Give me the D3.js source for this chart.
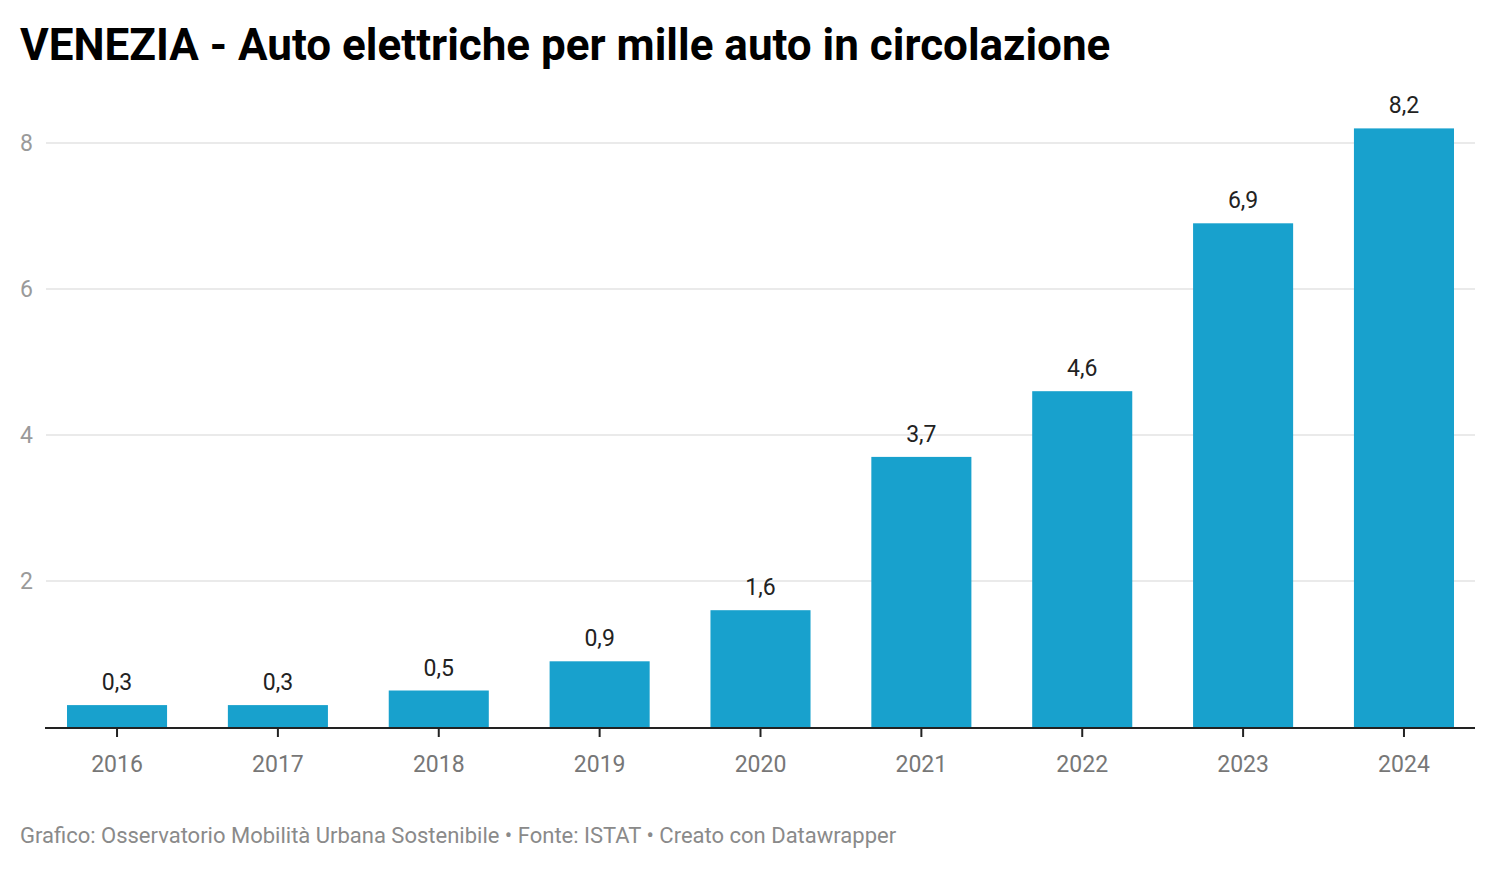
<!DOCTYPE html>
<html>
<head>
<meta charset="utf-8">
<script src="https://cdn.jsdelivr.net/npm/d3@7"></script>
<style>
  body { margin: 0; background: #fff; font-family: Roboto, "Noto Sans", sans-serif; }
  .grid line { stroke: #e3e3e3; stroke-width: 1.5; }
</style>
</head>
<body>
<div id="chart"></div>
<script>
var years = ["2016", "2017", "2018", "2019", "2020", "2021", "2022", "2023", "2024"];
var values = [0.3, 0.3, 0.5, 0.9, 1.6, 3.7, 4.6, 6.9, 8.2];
var yTicks = [2, 4, 6, 8];

var W = 1496, H = 870;
var fmt = function(v){ return d3.format(".1f")(v).replace(".", ","); };

var svg = d3.select("#chart").append("svg")
    .attr("width", W)
    .attr("height", H);

// title
svg.append("text")
    .attr("x", 20).attr("y", 60)
    .style("font-size", "44px")
    .style("font-weight", "bold")
    .style("fill", "#000")
    .text("VENEZIA - Auto elettriche per mille auto in circolazione");

var xScale = d3.scaleBand()
    .domain(years)
    .range([36.6, 1484.4])
    .paddingInner(0.378)
    .paddingOuter(0.189);

var yScale = d3.scaleLinear()
    .domain([0, 8])
    .range([727, 143]);

// grid lines
svg.append("g").attr("class", "grid")
    .selectAll("line")
    .data(yTicks)
    .enter().append("line")
    .attr("x1", 46).attr("x2", 1475)
    .attr("y1", function(d){ return yScale(d); })
    .attr("y2", function(d){ return yScale(d); });

// y labels
svg.append("g")
    .selectAll("text")
    .data(yTicks)
    .enter().append("text")
    .attr("x", 33)
    .attr("y", function(d){ return yScale(d); })
    .attr("dy", "0.35em")
    .attr("text-anchor", "end")
    .style("font-size", "23px")
    .style("fill", "#9a9a9a")
    .text(function(d){ return d; });

// bars
svg.append("g")
    .selectAll("rect")
    .data(values)
    .enter().append("rect")
    .attr("x", function(d, i){ return xScale(years[i]); })
    .attr("width", xScale.bandwidth())
    .attr("y", function(d){ return yScale(d); })
    .attr("height", function(d){ return yScale(0) - yScale(d); })
    .style("fill", "#18a1cd");

// value labels
svg.append("g")
    .selectAll("text")
    .data(values)
    .enter().append("text")
    .attr("x", function(d, i){ return xScale(years[i]) + xScale.bandwidth() / 2; })
    .attr("y", function(d){ return yScale(d) - 15; })
    .attr("text-anchor", "middle")
    .style("font-size", "23px")
    .style("fill", "#222")
    .text(function(d){ return fmt(d); });

// x axis
var xAxis = svg.append("g")
    .attr("transform", "translate(0,728)")
    .call(d3.axisBottom(xScale).tickSize(9).tickPadding(19));
xAxis.select(".domain")
    .attr("d", "M45,0H1475")
    .style("stroke", "#222")
    .style("stroke-width", 2);
xAxis.selectAll(".tick line")
    .style("stroke", "#222")
    .style("stroke-width", 2);
xAxis.selectAll(".tick text")
    .style("font-family", "Roboto, sans-serif")
    .style("font-size", "23px")
    .style("fill", "#777");

// footer
svg.append("text")
    .attr("x", 20).attr("y", 843)
    .style("font-size", "22px")
    .style("fill", "#8a8a8a")
    .text("Grafico: Osservatorio Mobilità Urbana Sostenibile • Fonte: ISTAT • Creato con Datawrapper");
</script>
</body>
</html>
